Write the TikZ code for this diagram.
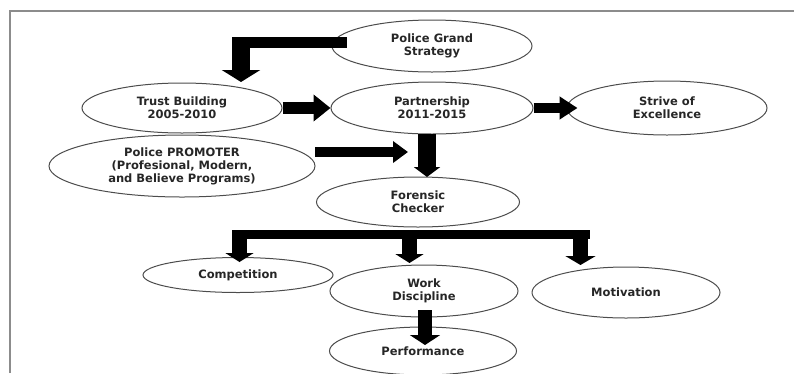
\documentclass[tikz,border=0pt]{standalone}
\usepackage{fontspec}
\setmainfont{DejaVu Sans}
\usetikzlibrary{shapes.geometric,arrows.meta,calc}
\begin{document}
\begin{tikzpicture}[x=1pt,y=-1pt,
  ell/.style={draw=black!70, line width=1pt, ellipse, inner sep=0pt, align=center,
    font=\bfseries\fontsize{11.5}{13}\selectfont, text=black!85},
  frameline/.style={draw=black!45, line width=1.2pt},
  blk/.style={draw=black, line width=#1},
  hd/.style 2 args={-{Triangle[length=#1,width=#2]}}
]
\useasboundingbox (0,0) rectangle (794,373);
\draw[frameline] (10,373) -- (10,11) -- (794,11);

% nodes
\node[ell, minimum width=200pt, minimum height=52pt] (psg) at (432,46) {Police Grand\\Strategy};
\node[ell, minimum width=200pt, minimum height=50pt] (trust) at (182,108) {Trust Building\\2005-2010};
\node[ell, minimum width=202pt, minimum height=52pt] (part) at (432,108) {Partnership\\2011-2015};
\node[ell, minimum width=200pt, minimum height=54pt] (strive) at (667,108) {Strive of\\Excellence};
\node[ell, minimum width=266pt, minimum height=62pt] (prom) at (182,166) {Police PROMOTER\\(Profesional, Modern,\\and Believe Programs)};
\node[ell, minimum width=203pt, minimum height=50pt] (fore) at (418,202) {Forensic\\Checker};
\node[ell, minimum width=190pt, minimum height=35pt] (comp) at (238,275) {Competition};
\node[ell, minimum width=188pt, minimum height=52pt] (work) at (424,291) {Work\\Discipline};
\node[ell, minimum width=188pt, minimum height=51pt] (mot) at (626,292.5) {Motivation};
\node[ell, minimum width=187pt, minimum height=48pt] (perf) at (423,351) {Performance};

% coordinates for bends and free ends
\coordinate (psgin) at ($(psg.west)+(15,-3.5)$);
\coordinate (bendL) at (232,42.5);
\coordinate (bendtop) at (241,37);
\coordinate (trusttip) at (241,82);
\coordinate (promout) at (315,152);
\coordinate (promtip) at (408,152);
\coordinate (partout) at (427,134);
\coordinate (foretip) at (427,177);
\coordinate (striveTip) at ($(strive.west)+(11,0)$);
\coordinate (brL) at (232,234.5);
\coordinate (brR) at (590,234.5);
\coordinate (b1) at (239.5,230);
\coordinate (b2) at (409.5,230);
\coordinate (b3) at (580.5,230);
\coordinate (t1) at (239.5,262);
\coordinate (t2) at (409.5,263);
\coordinate (t3) at (580.5,265);
\coordinate (workout) at (425,310);
\coordinate (perftip) at (425,345);

% connectors
\draw[blk=11pt] (psgin) -- (bendL);
\draw[blk=18pt, hd={12pt}{38pt}] (bendtop) -- (trusttip);
\draw[blk=12pt, hd={17pt}{26pt}] (trust.east) -- (part.west);
\draw[blk=10pt, hd={18pt}{22pt}] (part.east) -- (striveTip);
\draw[blk=10pt, hd={15pt}{21pt}] (promout) -- (promtip);
\draw[blk=18pt, hd={10pt}{26pt}] (partout) -- (foretip);
\draw[blk=9.5pt] (brL) -- (brR);
\draw[blk=15pt, hd={9pt}{28pt}] (b1) -- (t1);
\draw[blk=15pt, hd={9pt}{28pt}] (b2) -- (t2);
\draw[blk=15pt, hd={9pt}{30pt}] (b3) -- (t3);
\draw[blk=14pt, hd={10pt}{30pt}] (workout) -- (perftip);
\end{tikzpicture}
\end{document}
